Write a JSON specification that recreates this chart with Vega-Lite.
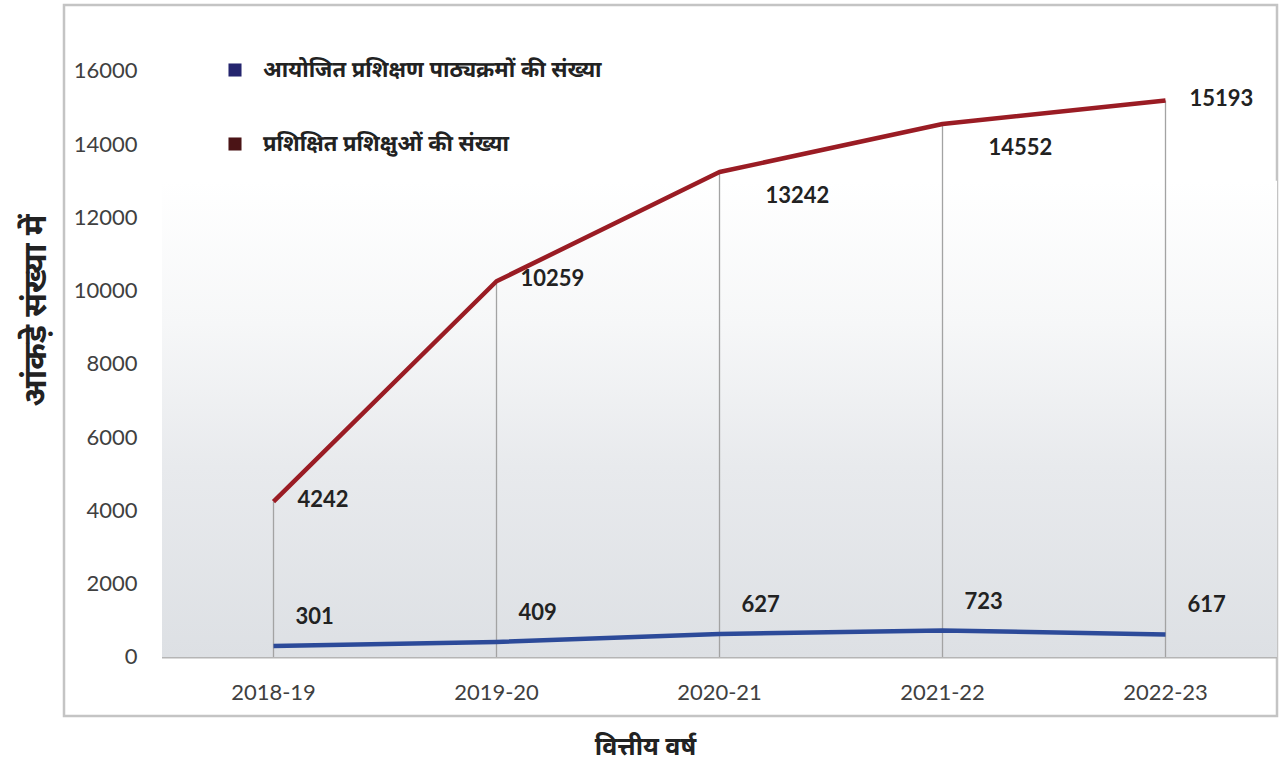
{
  "$schema": "https://vega.github.io/schema/vega-lite/v6.json",
  "width": 1213,
  "height": 711,
  "autosize": {"type": "none"},
  "padding": {"left": 64, "top": 5, "right": 4, "bottom": 56},
  "background": "#ffffff",
  "config": {
    "view": {"stroke": "#c4c4c4", "strokeWidth": 2.5},
    "font": "Lato"
  },
  "data": {
    "values": [
      {"year": "2018-19", "series": "आयोजित प्रशिक्षण पाठ्यक्रमों की संख्या", "value": 301},
      {"year": "2019-20", "series": "आयोजित प्रशिक्षण पाठ्यक्रमों की संख्या", "value": 409},
      {"year": "2020-21", "series": "आयोजित प्रशिक्षण पाठ्यक्रमों की संख्या", "value": 627},
      {"year": "2021-22", "series": "आयोजित प्रशिक्षण पाठ्यक्रमों की संख्या", "value": 723},
      {"year": "2022-23", "series": "आयोजित प्रशिक्षण पाठ्यक्रमों की संख्या", "value": 617},
      {"year": "2018-19", "series": "प्रशिक्षित प्रशिक्षुओं की संख्या", "value": 4242},
      {"year": "2019-20", "series": "प्रशिक्षित प्रशिक्षुओं की संख्या", "value": 10259},
      {"year": "2020-21", "series": "प्रशिक्षित प्रशिक्षुओं की संख्या", "value": 13242},
      {"year": "2021-22", "series": "प्रशिक्षित प्रशिक्षुओं की संख्या", "value": 14552},
      {"year": "2022-23", "series": "प्रशिक्षित प्रशिक्षुओं की संख्या", "value": 15193}
    ]
  },
  "encoding": {
    "x": {
      "field": "year",
      "type": "nominal",
      "sort": null,
      "scale": {"type": "band", "range": [98, 1213], "paddingInner": 0, "paddingOuter": 0},
      "axis": {
        "title": "वित्तीय वर्ष",
        "titleFont": "Noto Sans Devanagari, Noto Sans, sans-serif",
        "titleFontSize": 25,
        "titleFontWeight": "bold",
        "titleColor": "#222222",
        "titleX": 581,
        "titleY": 89,
        "titleBaseline": "middle",
        "titleAlign": "center",
        "offset": -59,
        "domain": false,
        "ticks": false,
        "labelPadding": 25,
        "labelFontSize": 22,
        "labelColor": "#404040",
        "labelAngle": 0
      }
    },
    "y": {
      "type": "quantitative",
      "scale": {"domain": [-1611, 17802], "nice": false, "zero": false}
    }
  },
  "layer": [
    {
      "transform": [{"filter": "datum.series === 'प्रशिक्षित प्रशिक्षुओं की संख्या'"}],
      "mark": {
        "type": "rect",
        "fill": {
          "gradient": "linear",
          "x1": 0, "y1": 0, "x2": 0, "y2": 1,
          "stops": [
            {"offset": 0, "color": "#ffffff"},
            {"offset": 0.3, "color": "#f6f7f8"},
            {"offset": 0.6, "color": "#e8eaed"},
            {"offset": 1, "color": "#dde0e4"}
          ]
        }
      },
      "encoding": {
        "y": {
          "datum": 13000,
          "type": "quantitative",
          "axis": {
            "title": "आंकड़े संख्या में",
            "titleFont": "Noto Sans Devanagari, Noto Sans, sans-serif",
            "titleFontSize": 32,
            "titleFontWeight": "bold",
            "titleColor": "#222222",
            "titleX": -107,
            "titleY": 305,
            "titleBaseline": "middle",
            "titleAlign": "center",
            "titleAngle": -90,
            "offset": -78,
            "values": [0, 2000, 4000, 6000, 8000, 10000, 12000, 14000, 16000],
            "domain": false,
            "ticks": false,
            "grid": false,
            "labelPadding": 5,
            "labelFontSize": 22,
            "labelColor": "#404040",
            "format": "d"
          }
        },
        "y2": {"datum": 0}
      }
    },
    {
      "transform": [{"filter": "datum.series === 'प्रशिक्षित प्रशिक्षुओं की संख्या'"}],
      "mark": {"type": "rect", "fill": "#b5b5b5"},
      "encoding": {
        "y": {"datum": 0, "type": "quantitative"},
        "y2": {"datum": -42}
      }
    },
    {
      "transform": [{"filter": "datum.series === 'प्रशिक्षित प्रशिक्षुओं की संख्या'"}],
      "mark": {"type": "rule", "color": "#a3a3a3", "strokeWidth": 1.3},
      "encoding": {
        "y": {"field": "value", "type": "quantitative"},
        "y2": {"datum": 0}
      }
    },
    {
      "mark": {"type": "line", "strokeWidth": 4.5, "interpolate": "linear", "strokeJoin": "round"},
      "encoding": {
        "y": {"field": "value", "type": "quantitative"},
        "color": {
          "field": "series",
          "type": "nominal",
          "scale": {
            "domain": ["आयोजित प्रशिक्षण पाठ्यक्रमों की संख्या", "प्रशिक्षित प्रशिक्षुओं की संख्या"],
            "range": ["#2c4a99", "#9a1c24"]
          },
          "legend": {
            "title": null,
            "orient": "none",
            "legendX": 160,
            "legendY": 54,
            "symbolType": "square",
            "symbolSize": 170,
            "symbolStrokeWidth": 0,
            "labelFont": "Noto Sans Devanagari, Noto Sans, sans-serif",
            "labelFontSize": 22,
            "labelFontWeight": "bold",
            "labelColor": "#222222",
            "labelOffset": 17,
            "rowPadding": 52,
            "labelLimit": 500,
            "encode": {
              "symbols": {
                "update": {
                  "fill": {"signal": "datum.index === 0 ? '#24256e' : '#4b1416'"},
                  "stroke": {"value": "transparent"},
                  "opacity": {"value": 1}
                }
              }
            }
          }
        }
      }
    },
    {
      "transform": [{"filter": "datum.series === 'प्रशिक्षित प्रशिक्षुओं की संख्या' && (datum.year === '2018-19' || datum.year === '2019-20' || datum.year === '2022-23')"}],
      "mark": {"type": "text", "align": "left", "baseline": "middle", "dx": 24, "dy": -2, "fontSize": 22, "fontWeight": "bold", "color": "#222222", "font": "Lato"},
      "encoding": {
        "y": {"field": "value", "type": "quantitative"},
        "text": {"field": "value", "type": "quantitative", "format": "d"}
      }
    },
    {
      "transform": [{"filter": "datum.series === 'प्रशिक्षित प्रशिक्षुओं की संख्या' && (datum.year === '2020-21' || datum.year === '2021-22')"}],
      "mark": {"type": "text", "align": "left", "baseline": "middle", "dx": 46, "dy": 24, "fontSize": 22, "fontWeight": "bold", "color": "#222222", "font": "Lato"},
      "encoding": {
        "y": {"field": "value", "type": "quantitative"},
        "text": {"field": "value", "type": "quantitative", "format": "d"}
      }
    },
    {
      "transform": [{"filter": "datum.series === 'आयोजित प्रशिक्षण पाठ्यक्रमों की संख्या'"}],
      "mark": {"type": "text", "align": "left", "baseline": "middle", "dx": 22, "dy": -29, "fontSize": 22, "fontWeight": "bold", "color": "#222222", "font": "Lato"},
      "encoding": {
        "y": {"field": "value", "type": "quantitative"},
        "text": {"field": "value", "type": "quantitative", "format": "d"}
      }
    }
  ]
}
